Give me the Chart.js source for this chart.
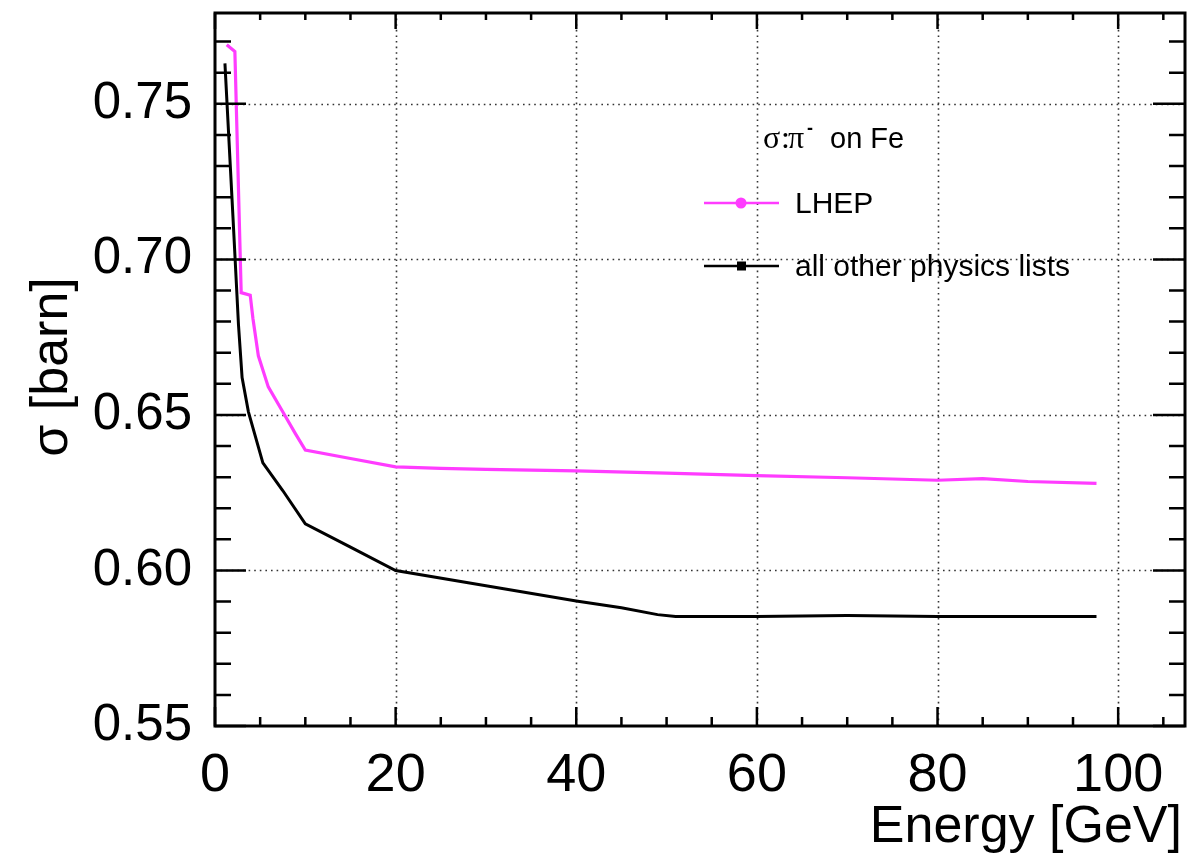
<!DOCTYPE html>
<html>
<head>
<meta charset="utf-8">
<script src="https://cdn.jsdelivr.net/npm/chart.js@4.4.1/dist/chart.umd.min.js"></script>
<style>
  html, body { margin: 0; padding: 0; background: #fff; }
  #wrap { width: 1198px; height: 853px; }
</style>
</head>
<body>
<div id="wrap"><canvas id="sigmaChart" width="1198" height="853"></canvas></div>
<script>
// pi- on Fe cross section vs beam energy
const lhepEnergy = [1.3, 2.2, 2.9, 3.9, 4.2, 4.8, 5.9, 7.5, 8.9, 10, 15, 20, 25, 30, 40, 50, 60, 70, 80, 85, 90, 97.6];
const lhepSigma = [0.769, 0.7668, 0.6893, 0.6885, 0.681, 0.669, 0.659, 0.651, 0.644, 0.6387, 0.636, 0.6333, 0.6328, 0.6325, 0.632, 0.6313, 0.6305, 0.6298, 0.629, 0.6295, 0.6286, 0.628];

const otherEnergy = [1.1, 2.0, 2.6, 3.0, 3.7, 5.3, 7.5, 10, 15, 20, 30, 40, 45, 49, 51, 60, 70, 80, 97.6];
const otherSigma = [0.763, 0.713, 0.679, 0.662, 0.651, 0.6346, 0.6257, 0.615, 0.6075, 0.6, 0.5951, 0.5902, 0.588, 0.5858, 0.5852, 0.5852, 0.5855, 0.5852, 0.5852];

const xTicks = [0, 20, 40, 60, 80, 100];
const yTicks = [0.55, 0.60, 0.65, 0.70, 0.75];

const MAGENTA = '#ff3cff';

function toPoints(xs, ys) {
    return xs.map((x, i) => ({ x: x, y: ys[i] }));
}

// frame, dotted grid and ROOT-style ticks on all four sides
const frame = {
    id: 'frame',
    beforeDatasetsDraw(chart) {
        const { ctx, chartArea: a, scales: { x, y } } = chart;
        ctx.save();
        ctx.strokeStyle = '#333';
        ctx.lineWidth = 1.6;
        ctx.setLineDash([1.6, 4]);
        xTicks.slice(1).forEach(v => {
            const px = Math.round(x.getPixelForValue(v)) + 0.5;
            ctx.beginPath(); ctx.moveTo(px, a.top); ctx.lineTo(px, a.bottom); ctx.stroke();
        });
        yTicks.slice(1).forEach(v => {
            const py = Math.round(y.getPixelForValue(v)) + 0.5;
            ctx.beginPath(); ctx.moveTo(a.left, py); ctx.lineTo(a.right, py); ctx.stroke();
        });
        ctx.restore();
    },
    afterDatasetsDraw(chart) {
        const { ctx, chartArea: a, scales: { x, y } } = chart;
        ctx.save();
        ctx.strokeStyle = '#000';
        ctx.lineWidth = 2.5;
        ctx.setLineDash([]);
        // x ticks every 5, major every 20
        for (let v = 0; v <= x.max; v += 5) {
            const px = x.getPixelForValue(v);
            const major = v % 20 === 0;
            ctx.beginPath();
            ctx.moveTo(px, a.bottom); ctx.lineTo(px, a.bottom - (major ? 19 : 9));
            ctx.moveTo(px, a.top); ctx.lineTo(px, a.top + (major ? 16 : 7));
            ctx.stroke();
        }
        // y ticks every 0.01, major every 0.05
        for (let k = 55; k <= 77; k++) {
            const py = y.getPixelForValue(k / 100);
            const major = k % 5 === 0;
            ctx.beginPath();
            ctx.moveTo(a.left, py); ctx.lineTo(a.left + (major ? 31 : 16), py);
            ctx.moveTo(a.right, py); ctx.lineTo(a.right - (major ? 32 : 16), py);
            ctx.stroke();
        }
        ctx.lineWidth = 3;
        ctx.strokeRect(a.left, a.top, a.right - a.left, a.bottom - a.top);
        ctx.restore();
    },
    afterDraw(chart) {
        const { ctx } = chart;
        ctx.save();
        ctx.fillStyle = '#000';

        // axis titles
        ctx.font = '52px "Liberation Sans", Arial, sans-serif';
        ctx.textAlign = 'right';
        ctx.textBaseline = 'alphabetic';
        ctx.fillText('Energy [GeV]', 1182, 842);

        ctx.save();
        ctx.translate(67, 367);
        ctx.rotate(-Math.PI / 2);
        ctx.textAlign = 'center';
        ctx.fillText('\u03c3 [barn]', 0, 0);
        ctx.restore();

        // legend header
        ctx.textAlign = 'left';
        ctx.font = '32px "Liberation Serif", serif';
        ctx.fillText('\u03c3', 763, 148);
        ctx.fillText(':', 781, 148);
        ctx.fillText('\u03c0', 788, 148);
        ctx.font = 'bold 18px "Liberation Sans", sans-serif';
        ctx.fillText('-', 807, 134);
        ctx.font = '29px "Liberation Sans", Arial, sans-serif';
        ctx.fillText('on Fe', 830, 148);

        // legend entries
        const entries = [
            { label: 'LHEP', color: MAGENTA, y: 203, marker: 'circle' },
            { label: 'all other physics lists', color: '#000', y: 266, marker: 'square' }
        ];
        ctx.font = '30px "Liberation Sans", Arial, sans-serif';
        entries.forEach(e => {
            ctx.strokeStyle = e.color;
            ctx.fillStyle = e.color;
            ctx.lineWidth = 2.5;
            ctx.beginPath(); ctx.moveTo(704, e.y); ctx.lineTo(779, e.y); ctx.stroke();
            if (e.marker === 'circle') {
                ctx.beginPath(); ctx.arc(741, e.y, 5.5, 0, Math.PI * 2); ctx.fill();
            } else {
                ctx.fillRect(737, e.y - 4.5, 9, 9);
            }
            ctx.fillStyle = '#000';
            ctx.fillText(e.label, 795, e.y + 10);
        });
        ctx.restore();
    }
};

new Chart(document.getElementById('sigmaChart'), {
    type: 'line',
    data: {
        datasets: [
            {
                label: 'LHEP',
                data: toPoints(lhepEnergy, lhepSigma),
                borderColor: MAGENTA,
                borderWidth: 3.2,
                pointRadius: 0,
                tension: 0
            },
            {
                label: 'all other physics lists',
                data: toPoints(otherEnergy, otherSigma),
                borderColor: '#000',
                borderWidth: 3,
                pointRadius: 0,
                tension: 0
            }
        ]
    },
    options: {
        responsive: false,
        animation: false,
        layout: { padding: { top: 13, right: 13, left: 0, bottom: 0 } },
        plugins: { legend: { display: false }, tooltip: { enabled: false } },
        scales: {
            x: {
                type: 'linear',
                min: 0,
                max: 107.4,
                grid: { display: false, drawTicks: false },
                border: { display: false },
                afterBuildTicks: s => { s.ticks = xTicks.map(v => ({ value: v })); },
                afterFit: s => { s.height = 127; s.paddingLeft = 0; s.paddingRight = 0; },
                ticks: {
                    color: '#000',
                    padding: 18,
                    maxRotation: 0,
                    font: { family: '"Liberation Sans", Arial, sans-serif', size: 54 },
                    callback: v => String(v)
                }
            },
            y: {
                type: 'linear',
                min: 0.55,
                max: 0.7792,
                grid: { display: false, drawTicks: false },
                border: { display: false },
                afterBuildTicks: s => { s.ticks = yTicks.map(v => ({ value: v })); },
                afterFit: s => { s.width = 215; s.paddingTop = 0; s.paddingBottom = 0; },
                ticks: {
                    color: '#000',
                    padding: 23,
                    font: { family: '"Liberation Sans", Arial, sans-serif', size: 51 },
                    callback: v => v.toFixed(2)
                }
            }
        }
    },
    plugins: [frame]
});
</script>
</body>
</html>
